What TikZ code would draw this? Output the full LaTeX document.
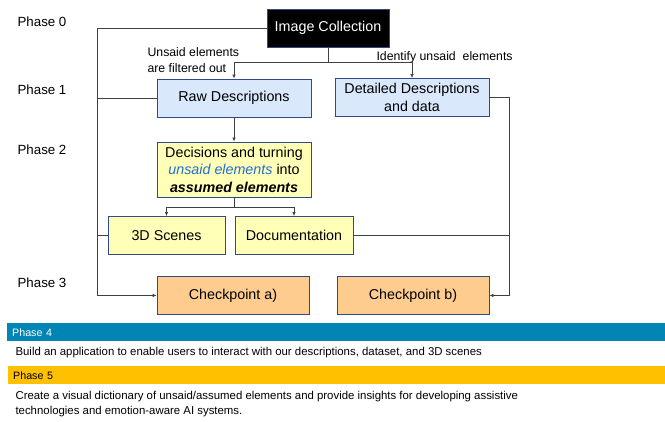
\documentclass[tikz,border=0pt]{standalone}
\usepackage{fontspec}
\setmainfont{Liberation Sans}
\usetikzlibrary{arrows.meta}

\definecolor{boxline}{HTML}{2F4A85}
\definecolor{wirecol}{HTML}{404040}
\definecolor{bluefill}{HTML}{DAE8FC}
\definecolor{yellowfill}{HTML}{FFFFB8}
\definecolor{orangefill}{HTML}{FFCC90}
\definecolor{unsaidblue}{HTML}{1F6FD8}
\definecolor{phasefour}{HTML}{0085B5}
\definecolor{phasefive}{HTML}{FFC000}

\tikzset{
	box/.style={draw=boxline, line width=0.9pt, minimum height=38pt, inner sep=2pt, align=center, font=\fontsize{14.3}{17.5}\selectfont},
	phase/.style={font=\fontsize{13.3}{16}\selectfont},
	note/.style={font=\fontsize{12.3}{16}\selectfont, align=left},
	body/.style={font=\fontsize{11.4}{15}\selectfont, align=left, anchor=west},
	bar/.style={anchor=north west, minimum width=658pt, minimum height=18pt, inner xsep=5pt, text width=648pt, align=left, font=\fontsize{10.7}{13}\selectfont},
	wire/.style={draw=wirecol, line width=0.7pt},
	arr/.style={wire, -{Latex[length=4pt, width=3.5pt]}}
}

\begin{document}
\begin{tikzpicture}[x=1pt, y=-1pt]
		\useasboundingbox (0, 0) rectangle (665, 422);
		
		\node[phase] (p0) at (42, 22) {Phase 0};
		\node[phase] (p1) at (42, 90) {Phase 1};
		\node[phase] (p2) at (42, 150) {Phase 2};
		\node[phase] (p3) at (42, 283) {Phase 3};
		
		\node[box, fill=black, text=white, minimum width=122pt] (img) at (328, 28) {Image Collection};
		\node[box, fill=bluefill, minimum width=154pt] (raw) at (234, 98) {Raw Descriptions};
		\node[box, fill=bluefill, minimum width=154pt] (det) at (412, 97.5) {Detailed Descriptions\\and data};
		\node[box, fill=yellowfill, minimum width=154pt, minimum height=55pt] (dec) at (234, 169.5) {Decisions and turning\\{\color{unsaidblue}\itshape unsaid elements} into\\{\bfseries\itshape assumed elements}};
		\node[box, fill=yellowfill, minimum width=117pt] (scn) at (166.5, 235.5) {3D Scenes};
		\node[box, fill=yellowfill, minimum width=118pt] (doc) at (294, 235.5) {Documentation};
		\node[box, fill=orangefill, minimum width=152pt] (cpa) at (233, 295.5) {Checkpoint a)};
		\node[box, fill=orangefill, minimum width=152pt] (cpb) at (413, 295.5) {Checkpoint b)};
		
		\node[note, anchor=west] (lbfilter) at (144, 60) {Unsaid elements\\are filtered out};
		\node[note, anchor=west] (lbident) at (373, 57) {Identify unsaid\ \ elements};
		
		\coordinate (busl) at (97, 0);
		\coordinate (busr) at (509, 0);
		\coordinate (split) at (328, 62);
		\coordinate (split2) at (234, 207);
		
		\draw[arr] (img.west) -- (img.west -| busl) |- (cpa.west);
		\draw[wire] (raw.west) -- (raw.west -| busl);
		\draw[wire] (scn.west) -- (scn.west -| busl);
		
		\draw[wire] (img.south) -- (split);
		\draw[arr] (split) -| (raw.north);
		\draw[arr] (split) -| (det.north);
		
		\draw[arr] (raw.south) -- (dec.north);
		\draw[wire] (dec.south) -- (split2);
		\draw[arr] (split2) -| (scn.north);
		\draw[arr] (split2) -| (doc.north);
		
		\draw[arr] (det.east) -- (det.east -| busr) |- (cpb.east);
		\draw[wire] (doc.east) -- (doc.east -| busr);
		
		\node[bar, fill=phasefour, text=white] (ph4) at (7, 323) {Phase 4};
		\node[body] (txt4) at (12, 353) {Build an application to enable users to interact with our descriptions, dataset, and 3D scenes};
		\node[bar, fill=phasefive] (ph5) at (8, 366) {Phase 5};
		\node[body] (txt5) at (12, 404.5) {Create a visual dictionary of unsaid/assumed elements and provide insights for developing assistive\\technologies and emotion-aware AI systems.};
	\end{tikzpicture}
\end{document}
